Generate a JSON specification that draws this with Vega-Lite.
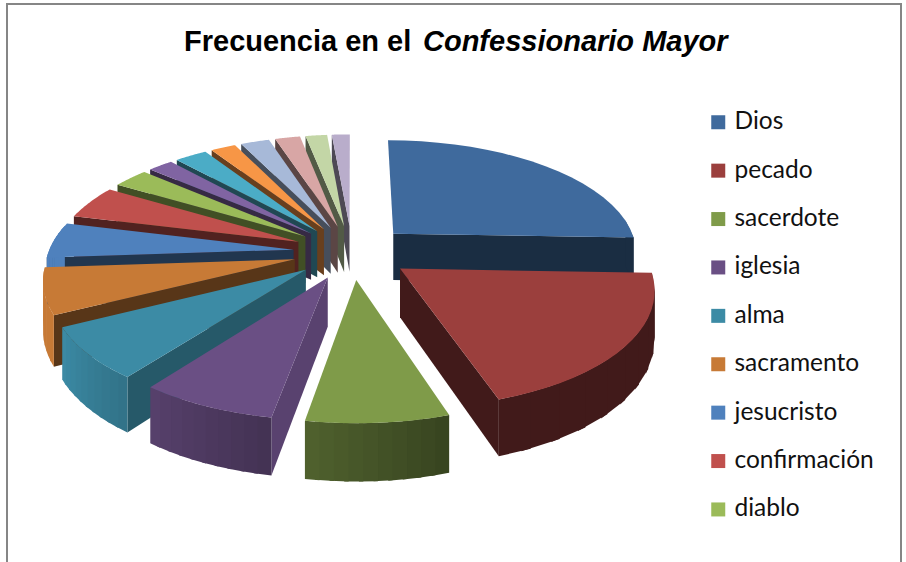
{
  "$schema": "https://vega.github.io/schema/vega-lite/v6.json",
  "width": 906,
  "height": 562,
  "padding": 0,
  "autosize": "none",
  "background": "white",
  "view": {"stroke": null},
  "title": {
    "text": "Frecuencia en el",
    "anchor": "start",
    "frame": "group",
    "orient": "top",
    "offset": 0,
    "dx": 184,
    "dy": 80,
    "baseline": "alphabetic",
    "font": "Liberation Sans",
    "fontSize": 29,
    "fontWeight": "bold",
    "color": "#000000"
  },
  "datasets": {
    "terminos": [
      {"nombre": "término 16", "orden": 16, "frecuencia": 5},
      {"nombre": "término 15", "orden": 15, "frecuencia": 6},
      {"nombre": "término 14", "orden": 14, "frecuencia": 7},
      {"nombre": "término 13", "orden": 13, "frecuencia": 8},
      {"nombre": "término 12", "orden": 12, "frecuencia": 7},
      {"nombre": "término 11", "orden": 11, "frecuencia": 9},
      {"nombre": "término 10", "orden": 10, "frecuencia": 7},
      {"nombre": "Dios", "orden": 1, "frecuencia": 92},
      {"nombre": "diablo", "orden": 9, "frecuencia": 10},
      {"nombre": "confirmación", "orden": 8, "frecuencia": 17},
      {"nombre": "jesucristo", "orden": 7, "frecuencia": 18},
      {"nombre": "sacramento", "orden": 6, "frecuencia": 23},
      {"nombre": "pecado", "orden": 2, "frecuencia": 70},
      {"nombre": "alma", "orden": 5, "frecuencia": 26},
      {"nombre": "iglesia", "orden": 4, "frecuencia": 27},
      {"nombre": "sacerdote", "orden": 3, "frecuencia": 28}
    ]
  },
  "resolve": {"scale": {"fill": "independent", "stroke": "independent"}, "legend": {"fill": "independent"}},
  "layer": [
    {
      "data": {"values": [{"x0": -1.38, "x1": 2.196, "y0": -0.992, "y1": 1.4}]},
      "mark": {"type": "rect", "fill": null, "stroke": "#868686", "strokeWidth": 2},
      "encoding": {
        "x": {"field": "x0", "type": "quantitative", "axis": null, "scale": {"domain": [-1.408, 2.216], "range": [0, 906], "zero": false, "nice": false}},
        "x2": {"field": "x1"},
        "y": {"field": "y0", "type": "quantitative", "axis": null, "scale": {"domain": [-1.008, 1.24], "range": [0, 562], "zero": false, "nice": false}},
        "y2": {"field": "y1"}
      }
    },
    {
      "data": {"name": "terminos"},
      "transform": [
        {"window": [{"op": "sum", "field": "frecuencia", "as": "fin"}], "sort": [{"field": "orden"}]},
        {"joinaggregate": [{"op": "sum", "field": "frecuencia", "as": "total"}]},
        {"calculate": "2*PI*(datum.fin-datum.frecuencia)/datum.total", "as": "a0"},
        {"calculate": "2*PI*datum.fin/datum.total", "as": "a1"},
        {"calculate": "(datum.a0+datum.a1)/2", "as": "m"},
        {"calculate": "[-1,2,0,0.1,0.2,0.3,0.4,0.5,0.6,0.7,0.8,0.9]", "as": "seg"},
        {"flatten": ["seg"]},
        {"filter": "(datum.seg>=0&&datum.seg<=1&&cos(datum.a0+(datum.seg+0.05)*(datum.a1-datum.a0))<0.2)||(datum.seg==-1&&datum.a0>=PI)||(datum.seg==2&&datum.a1<PI)"},
        {"calculate": "[0,1,2,3]", "as": "esq"},
        {"flatten": ["esq"]},
        {"calculate": "datum.nombre+'|'+datum.seg", "as": "pieza"},
        {"calculate": "datum.seg==-1?0:datum.seg==2?1:((datum.esq==0||datum.esq==3)?datum.seg:min(datum.seg+0.13,1))", "as": "t"},
        {"calculate": "datum.seg<0||datum.seg>1?((datum.esq==0||datum.esq==3)?0:1):1", "as": "r"},
        {"calculate": "datum.esq>=2?1:0", "as": "h"},
        {"calculate": "datum.a0+datum.t*(datum.a1-datum.a0)", "as": "a"},
        {"calculate": "0.24*sin(datum.m)+datum.r*sin(datum.a)", "as": "u"},
        {"calculate": "-0.24*cos(datum.m)-datum.r*cos(datum.a)", "as": "v"},
        {"calculate": "1/(1-0.15*datum.v)", "as": "k"},
        {"calculate": "0.98*datum.u*datum.k", "as": "px"},
        {"calculate": "(0.45*datum.v+0.19*datum.h)*datum.k", "as": "py"},
        {"calculate": "(datum.a0+(datum.seg<0?0:datum.seg>1?1:datum.seg+0.05)*(datum.a1-datum.a0))*180/PI", "as": "grados"},
        {"calculate": "datum.seg==-1?clamp(0.84-(datum.grados-190)*0.0075,0.42,0.84):datum.seg==2?0.42:clamp(0.42+(datum.grados-160)*0.007,0.42,1)", "as": "sombra"},
        {"calculate": "['#3f6a9d','#9b3f3d','#7f9b49','#6a4f84','#3c8ba5','#c77a36','#4f81bd','#c0504d','#9bbb59','#8064a2','#4bacc6','#f79646','#a7b9d8','#d8a6a5','#c3d6a6','#b9adcb'][datum.orden-1]", "as": "base"},
        {"calculate": "'rgb('+round(rgb(datum.base).r*datum.sombra)+','+round(rgb(datum.base).g*datum.sombra)+','+round(rgb(datum.base).b*datum.sombra)+')'", "as": "tinta"}
      ],
      "mark": {"type": "line", "strokeWidth": 0, "opacity": 1},
      "encoding": {
        "x": {"field": "px", "type": "quantitative"},
        "y": {"field": "py", "type": "quantitative"},
        "order": {"field": "esq", "type": "ordinal"},
        "detail": {"field": "pieza"},
        "fill": {"field": "tinta", "type": "nominal", "scale": null}
      }
    },
    {
      "data": {"name": "terminos"},
      "transform": [
        {"window": [{"op": "sum", "field": "frecuencia", "as": "fin"}], "sort": [{"field": "orden"}]},
        {"joinaggregate": [{"op": "sum", "field": "frecuencia", "as": "total"}]},
        {"calculate": "2*PI*(datum.fin-datum.frecuencia)/datum.total", "as": "a0"},
        {"calculate": "2*PI*datum.fin/datum.total", "as": "a1"},
        {"calculate": "(datum.a0+datum.a1)/2", "as": "m"},
        {"calculate": "[-1,0,0.05,0.1,0.15,0.2,0.25,0.3,0.35,0.4,0.45,0.5,0.55,0.6,0.65,0.7,0.75,0.8,0.85,0.9,0.95,1]", "as": "paso"},
        {"flatten": ["paso"]},
        {"calculate": "datum.paso<0?0:1", "as": "r"},
        {"calculate": "datum.a0+max(datum.paso,0)*(datum.a1-datum.a0)", "as": "a"},
        {"calculate": "0.24*sin(datum.m)+datum.r*sin(datum.a)", "as": "u"},
        {"calculate": "-0.24*cos(datum.m)-datum.r*cos(datum.a)", "as": "v"},
        {"calculate": "1/(1-0.15*datum.v)", "as": "k"},
        {"calculate": "0.98*datum.u*datum.k", "as": "px"},
        {"calculate": "0.45*datum.v*datum.k", "as": "py"}
      ],
      "mark": {"type": "line", "strokeWidth": 0, "opacity": 1},
      "encoding": {
        "x": {"field": "px", "type": "quantitative"},
        "y": {"field": "py", "type": "quantitative"},
        "order": {"field": "paso", "type": "quantitative"},
        "fill": {
          "field": "nombre",
          "type": "nominal",
          "scale": {
            "domain": ["Dios", "pecado", "sacerdote", "iglesia", "alma", "sacramento", "jesucristo", "confirmación", "diablo", "término 10", "término 11", "término 12", "término 13", "término 14", "término 15", "término 16"],
            "range": ["#3f6a9d", "#9b3f3d", "#7f9b49", "#6a4f84", "#3c8ba5", "#c77a36", "#4f81bd", "#c0504d", "#9bbb59", "#8064a2", "#4bacc6", "#f79646", "#a7b9d8", "#d8a6a5", "#c3d6a6", "#b9adcb"]
          },
          "legend": {
            "title": null,
            "orient": "none",
            "legendX": 706,
            "legendY": 110,
            "values": ["Dios", "pecado", "sacerdote", "iglesia", "alma", "sacramento", "jesucristo", "confirmación", "diablo"],
            "symbolType": "square",
            "symbolSize": 196,
            "symbolStrokeWidth": 0,
            "symbolOpacity": 1,
            "labelFont": "Lato",
            "labelFontSize": 24.5,
            "labelColor": "#111111",
            "labelOffset": 4,
            "labelLimit": 200,
            "rowPadding": 23.4
          }
        }
      }
    },
    {
      "data": {"values": [{"texto": "Confessionario Mayor", "x": 0.284, "y": -0.804}]},
      "mark": {"type": "text", "align": "left", "baseline": "alphabetic", "font": "Liberation Sans", "fontSize": 29, "fontWeight": "bold", "fontStyle": "italic", "color": "#000000"},
      "encoding": {
        "x": {"field": "x", "type": "quantitative"},
        "y": {"field": "y", "type": "quantitative"},
        "text": {"field": "texto"}
      }
    }
  ]
}
